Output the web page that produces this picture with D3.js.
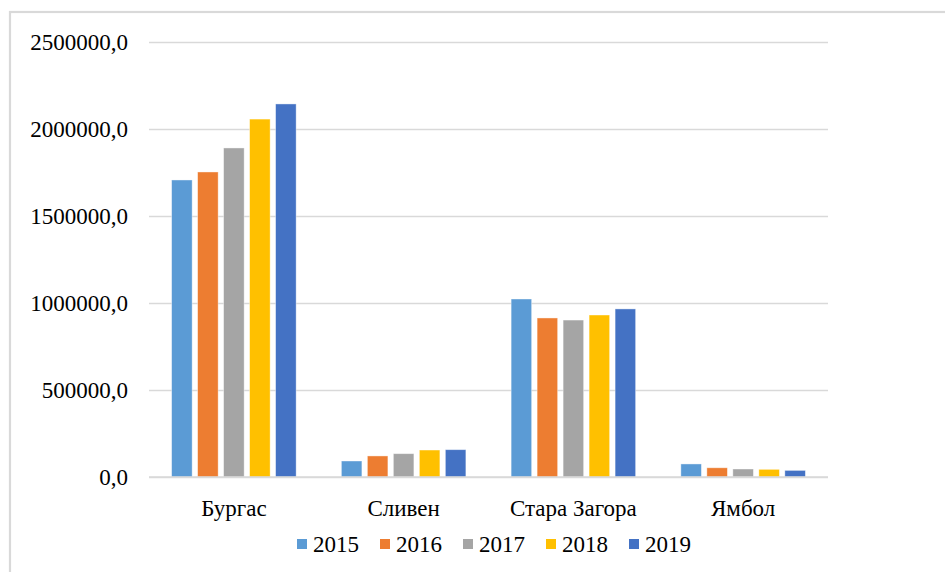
<!DOCTYPE html>
<html>
<head>
<meta charset="utf-8">
<script src="https://d3js.org/d3.v7.min.js"></script>
<style>
  html, body { margin: 0; padding: 0; background: #fff; }
  #chart { width: 945px; height: 572px; }
  text { font-family: "Liberation Serif", "Times New Roman", serif; fill: #000; }
</style>
</head>
<body>
<div id="chart"></div>
<script>
// data
const regions = ["Бургас", "Сливен", "Стара Загора", "Ямбол"];
const years = ["2015", "2016", "2017", "2018", "2019"];
const v2015 = [1707000, 92000, 1023000, 75000];
const v2016 = [1753000, 121000, 914000, 53000];
const v2017 = [1891000, 134000, 902000, 46000];
const v2018 = [2057000, 155000, 931000, 44000];
const v2019 = [2144000, 157000, 966000, 38000];
const yTicks = [0, 500000, 1000000, 1500000, 2000000, 2500000];
const colors = ["#5b9bd5", "#ed7d31", "#a5a5a5", "#ffc000", "#4472c4"];

const series = [v2015, v2016, v2017, v2018, v2019];

function draw() {
    const width = 945, height = 572;
    const margin = {top: 42, right: 117, bottom: 95, left: 149};

    d3.select("#chart svg").remove();
    const svg = d3.select("#chart")
        .append("svg")
        .attr("width", width)
        .attr("height", height);

    // frame of the chart area (right and bottom edges run off the picture)
    svg.append("rect")
        .attr("x", 10).attr("y", 12)
        .attr("width", 1000).attr("height", 1000)
        .attr("fill", "none")
        .attr("stroke", "#d9d9d9")
        .attr("stroke-width", 2.2);

    const x0 = d3.scaleBand()
        .domain(regions)
        .range([margin.left, width - margin.right]);

    const x1 = d3.scaleBand()
        .domain(years)
        .range([0, x0.bandwidth()])
        .paddingInner(0.21)
        .paddingOuter(0.87);

    const y = d3.scaleLinear()
        .domain([0, 2500000])
        .range([height - margin.bottom, margin.top]);

    const fmt = d => d3.format(".1f")(d).replace(".", ",");

    // gridlines + labels
    const yAxis = d3.axisLeft(y)
        .tickValues(yTicks)
        .tickSize(-(width - margin.left - margin.right))
        .tickPadding(21)
        .tickFormat(fmt);

    const gy = svg.append("g")
        .attr("transform", `translate(${margin.left},0)`)
        .call(yAxis);
    gy.select(".domain").remove();
    gy.selectAll(".tick line")
        .attr("stroke", "#d9d9d9")
        .attr("stroke-width", 1.3);
    gy.selectAll(".tick text")
        .attr("font-size", 23)
        .attr("font-family", "Liberation Serif, serif")
        .attr("fill", "#000");

    // bars
    const groups = svg.append("g").selectAll("g")
        .data(regions)
        .enter().append("g")
        .attr("transform", d => `translate(${x0(d)},0)`);

    groups.selectAll("rect")
        .data((d, i) => years.map((yr, j) => ({year: yr, value: series[j][i], color: colors[j]})))
        .enter().append("rect")
        .attr("x", d => x1(d.year))
        .attr("width", x1.bandwidth())
        .attr("y", d => y(d.value))
        .attr("height", d => y(0) - y(d.value))
        .attr("fill", d => d.color)
        .attr("stroke", "#ffffff")
        .attr("stroke-opacity", 0.5)
        .attr("stroke-width", 0.8);

    // baseline
    svg.append("line")
        .attr("x1", margin.left).attr("x2", width - margin.right)
        .attr("y1", y(0)).attr("y2", y(0))
        .attr("stroke", "#d9d9d9")
        .attr("stroke-width", 1.3);

    // category labels
    const xAxis = d3.axisBottom(x0).tickSize(0).tickPadding(0);
    const gx = svg.append("g")
        .attr("transform", `translate(0,${y(0)})`)
        .call(xAxis);
    gx.select(".domain").remove();
    gx.selectAll(".tick text")
        .attr("font-size", 23)
        .attr("font-family", "Liberation Serif, serif")
        .attr("fill", "#000")
        .attr("y", 39)
        .attr("dy", 0);

    // legend
    const step = 83;
    const legendX = 297, legendY = 552;
    const legend = svg.append("g").selectAll("g")
        .data(years)
        .enter().append("g")
        .attr("transform", (d, i) => `translate(${legendX + i * step},${legendY})`);

    legend.append("rect")
        .attr("x", 0).attr("y", -13)
        .attr("width", 10).attr("height", 10)
        .attr("fill", (d, i) => colors[i]);

    legend.append("text")
        .attr("x", 16).attr("y", 0)
        .attr("font-size", 23)
        .text(d => d);
}

draw();
</script>
</body>
</html>
